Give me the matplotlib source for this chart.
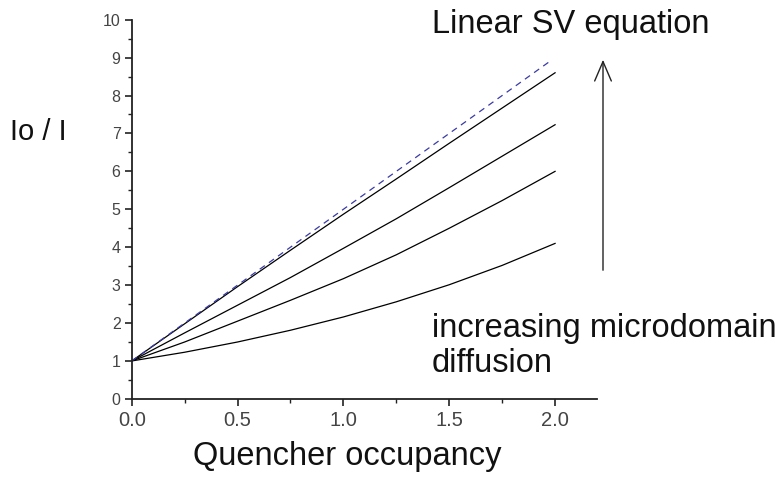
import numpy as np
import matplotlib
matplotlib.use("Agg")
import matplotlib.pyplot as plt
from matplotlib.ticker import MultipleLocator

plt.rcParams['font.family'] = ['Liberation Sans', 'DejaVu Sans']

# quencher occupancy
x = [0, 0.25, 0.5, 0.75, 1.0, 1.25, 1.5, 1.75, 2.0]
# solid curves, top to bottom (decreasing microdomain diffusion)
curve_1 = [1, 1.98, 2.96, 3.92, 4.87, 5.80, 6.74, 7.67, 8.60]
curve_2 = [1, 1.74, 2.47, 3.20, 3.97, 4.75, 5.57, 6.40, 7.23]
curve_3 = [1, 1.50, 2.05, 2.60, 3.17, 3.80, 4.50, 5.23, 6.00]
curve_4 = [1, 1.23, 1.50, 1.81, 2.16, 2.56, 3.01, 3.52, 4.10]
# linear Stern-Volmer line
x_sv = [0, 0.5, 1.0, 1.5, 1.97]
y_sv = [1, 3, 5, 7, 8.88]

fig = plt.figure(figsize=(7.84, 4.8), dpi=100)
ax = fig.add_axes([0.168, 0.169, 0.594, 0.790])

for c in [curve_1, curve_2, curve_3, curve_4]:
    ax.plot(x, c, color='black', lw=0.9)
ax.plot(x_sv, y_sv, color='#3a3aa8', lw=0.9, dashes=(5, 4))

ax.set_xlim(0, 2.2)
ax.set_ylim(0, 10)
ax.set_xticks([0, 0.5, 1.0, 1.5, 2.0])
ax.set_xticklabels(['0.0', '0.5', '1.0', '1.5', '2.0'])
ax.set_yticks(range(0, 11))
ax.xaxis.set_minor_locator(MultipleLocator(0.25))
ax.yaxis.set_minor_locator(MultipleLocator(0.5))

for s in ['top', 'right']:
    ax.spines[s].set_visible(False)
for s in ['left', 'bottom']:
    ax.spines[s].set_linewidth(1.3)
    ax.spines[s].set_color('#222222')

ax.tick_params(which='major', length=5, width=1.2, color='#222222')
ax.tick_params(which='minor', length=3, width=1.0, color='#222222')
ax.tick_params(axis='x', labelsize=14.5, labelcolor='#444444', pad=4)
ax.tick_params(axis='y', labelsize=11.5, labelcolor='#444444', pad=3)

big = 23.5
fig.text(347/784, 1 - 457/480, 'Quencher occupancy', fontsize=big,
         ha='center', va='center', color='#111111')
fig.text(10/784, 1 - 132/480, 'Io / I', fontsize=21,
         ha='left', va='center', color='#111111')
fig.text(432/784, 1 - 24/480, 'Linear SV equation', fontsize=big,
         ha='left', va='center', color='#111111')
fig.text(432/784, 1 - 328/480, 'increasing microdomain', fontsize=big,
         ha='left', va='center', color='#111111')
fig.text(432/784, 1 - 364/480, 'diffusion', fontsize=big,
         ha='left', va='center', color='#111111')

fig.patches.append(matplotlib.patches.FancyArrowPatch(
    (603/784, 1 - 273/480), (603/784, 1 - 57/480),
    transform=fig.transFigure, arrowstyle='->,head_length=14,head_width=6',
    color='#222222', lw=1.0))

fig.savefig('out.png', dpi=100)
